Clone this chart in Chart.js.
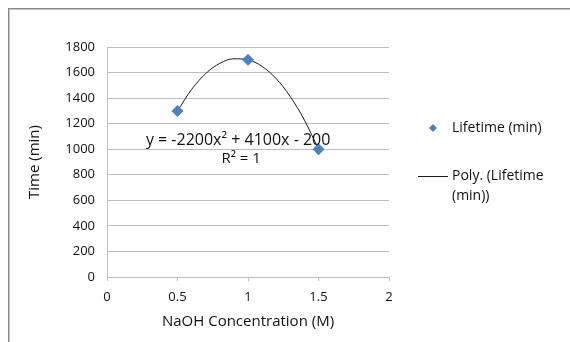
<!DOCTYPE html>
<html>
<head>
<meta charset="utf-8">
<script src="https://cdn.jsdelivr.net/npm/chart.js@4.4.1/dist/chart.umd.min.js"></script>
<style>
    html, body { margin: 0; padding: 0; background: #ffffff; overflow: hidden; }
    #wrap { position: relative; width: 570px; height: 342px; overflow: hidden; }
    #frame {
        position: absolute; left: 8px; top: 8px; width: 620px; height: 400px;
        border-left: 1px solid #8a8a8a; border-top: 1px solid #8a8a8a;
        box-shadow: inset 1px 1px 0 #c4c4c4;
    }
    canvas { position: absolute; left: 0; top: 0; }
</style>
</head>
<body>
<div id="wrap">
    <div id="frame"></div>
    <canvas id="chart" width="570" height="342"></canvas>
</div>
<script>
// measured points
const concentration = [0.5, 1, 1.5];
const lifetime = [1300, 1700, 1000];

// polynomial trendline
const trendX = [0.5, 0.6, 0.7, 0.8, 0.9, 1.0, 1.1, 1.2, 1.3, 1.4, 1.5];
const trendY = [1300, 1468, 1592, 1672, 1708, 1700, 1648, 1552, 1412, 1228, 1000];

const seriesName = "Lifetime (min)";
const trendName = ["Poly. (Lifetime", "(min))"];
const equationText = ["y = -2200x\u00B2 + 4100x - 200", "R\u00B2 = 1"];
const equationAt = { x: 0.93, y: 1065 };

const FONT = "'Open Sans', sans-serif";
const TEXT = "#111111";
const GRID = "#bdbdbd";
const BLUE = "#4f81bd";

const labelsPlugin = {
    id: "labelsPlugin",
    afterDraw(chart) {
        const ctx = chart.ctx;
        const xs = chart.scales.x;
        const ys = chart.scales.y;
        ctx.save();
        ctx.fillStyle = TEXT;
        ctx.textAlign = "center";
        ctx.textBaseline = "middle";

        // trendline equation
        ctx.font = "16px " + FONT;
        const ex = xs.getPixelForValue(equationAt.x);
        const ey = ys.getPixelForValue(equationAt.y);
        ctx.fillText(equationText[0], ex, ey);
        ctx.font = "15px " + FONT;
        ctx.fillText(equationText[1], ex + 3, ey + 18);

        // legend
        ctx.font = "14px " + FONT;
        const lx = chart.chartArea.right + 44;
        ctx.fillStyle = BLUE;
        ctx.beginPath();
        ctx.moveTo(lx, 124);
        ctx.lineTo(lx + 4, 128);
        ctx.lineTo(lx, 132);
        ctx.lineTo(lx - 4, 128);
        ctx.closePath();
        ctx.fill();

        ctx.fillStyle = TEXT;
        ctx.textAlign = "left";
        ctx.fillText(seriesName, lx + 19, 128);

        ctx.strokeStyle = "#1a1a1a";
        ctx.lineWidth = 1;
        ctx.beginPath();
        ctx.moveTo(lx - 15, 176.5);
        ctx.lineTo(lx + 15, 176.5);
        ctx.stroke();
        ctx.fillText(trendName[0], lx + 19, 176);
        ctx.fillText(trendName[1], lx + 19, 196);
        ctx.restore();
    }
};

new Chart(document.getElementById("chart"), {
    type: "scatter",
    data: {
        datasets: [
            {
                label: seriesName,
                data: concentration.map((c, i) => ({ x: c, y: lifetime[i] })),
                pointStyle: "rectRot",
                pointRadius: 6,
                pointHoverRadius: 6,
                backgroundColor: BLUE,
                borderColor: BLUE,
                borderWidth: 0,
                order: 1
            },
            {
                type: "line",
                label: trendName.join(" "),
                data: trendX.map((c, i) => ({ x: c, y: trendY[i] })),
                borderColor: "#1a1a1a",
                borderWidth: 1,
                pointRadius: 0,
                tension: 0.4,
                cubicInterpolationMode: "monotone",
                fill: false,
                order: 2
            }
        ]
    },
    options: {
        responsive: false,
        animation: false,
        events: [],
        layout: {
            padding: { left: 0, top: 47, right: 181, bottom: 0 }
        },
        scales: {
            x: {
                type: "linear",
                min: 0,
                max: 2,
                afterFit: function (scale) { scale.height = 65; },
                ticks: {
                    stepSize: 0.5,
                    color: TEXT,
                    padding: 8,
                    font: { family: FONT, size: 13 },
                    callback: function (value) { return String(value); }
                },
                grid: {
                    drawOnChartArea: false,
                    drawTicks: true,
                    tickLength: 4,
                    color: GRID
                },
                border: { color: GRID },
                title: {
                    display: true,
                    text: "NaOH Concentration (M)",
                    color: TEXT,
                    padding: { top: 0, bottom: 11 },
                    font: { family: FONT, size: 15 }
                }
            },
            y: {
                min: 0,
                max: 1800,
                afterFit: function (scale) { scale.width = 107; },
                ticks: {
                    stepSize: 200,
                    color: TEXT,
                    padding: 12,
                    font: { family: FONT, size: 13 },
                    callback: function (value) { return String(value); }
                },
                grid: {
                    color: GRID,
                    drawTicks: false
                },
                border: { color: GRID },
                title: {
                    display: true,
                    text: "Time (min)",
                    color: TEXT,
                    padding: { top: 26, bottom: 0 },
                    font: { family: FONT, size: 15 }
                }
            }
        },
        plugins: {
            legend: { display: false },
            tooltip: { enabled: false }
        }
    },
    plugins: [labelsPlugin]
});
</script>
</body>
</html>
